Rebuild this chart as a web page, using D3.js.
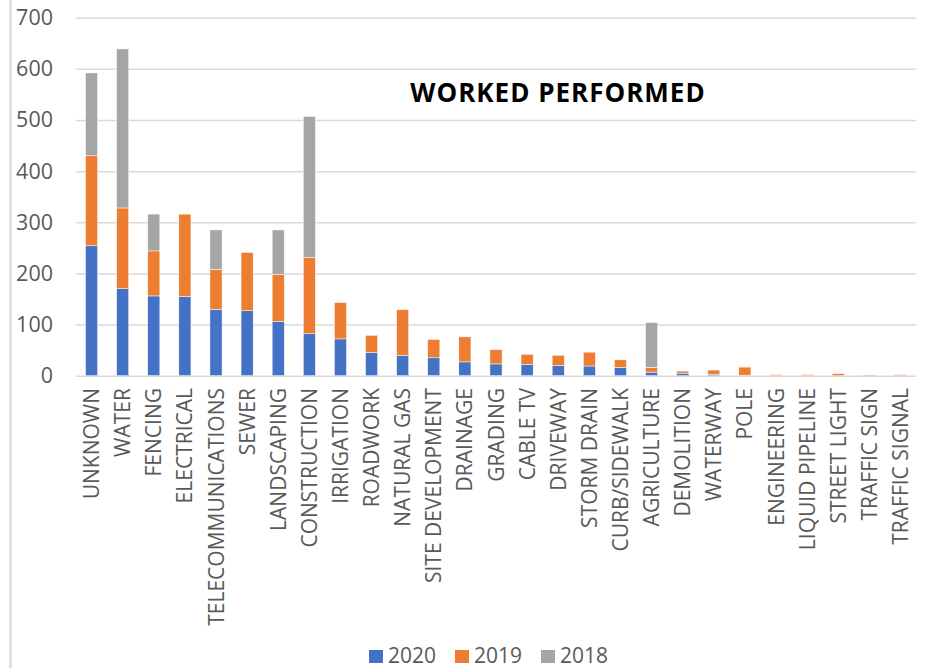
<!DOCTYPE html>
<html>
<head>
<meta charset="utf-8">
<script src="https://cdn.jsdelivr.net/npm/d3@7"></script>
<style>
	body { margin: 0; background: #fff; }
	text { font-family: "Open Sans", sans-serif; }
</style>
</head>
<body>
<svg id="canvas" width="930" height="668"></svg>
<script>
// work categories, sorted the way the sheet had them
const categories = ["UNKNOWN", "WATER", "FENCING", "ELECTRICAL", "TELECOMMUNICATIONS", "SEWER",
	"LANDSCAPING", "CONSTRUCTION", "IRRIGATION", "ROADWORK", "NATURAL GAS", "SITE DEVELOPMENT",
	"DRAINAGE", "GRADING", "CABLE TV", "DRIVEWAY", "STORM DRAIN", "CURB/SIDEWALK", "AGRICULTURE",
	"DEMOLITION", "WATERWAY", "POLE", "ENGINEERING", "LIQUID PIPELINE", "STREET LIGHT",
	"TRAFFIC SIGN", "TRAFFIC SIGNAL"];

const years = ["2020", "2019", "2018"];

const v2020 = [254, 170, 156, 155, 130, 127, 106, 82, 72, 45, 40, 35, 27, 23, 22, 20, 19, 16, 7, 5, 3, 1, 0, 0, 0, 1, 0];
const v2019 = [176, 158, 88, 161, 78, 114, 92, 149, 71, 34, 89, 36, 49, 28, 20, 20, 27, 15, 9, 4, 8, 16, 2, 2, 4, 0, 2];
const v2018 = [162, 311, 72, 0, 77, 0, 87, 276, 0, 0, 0, 0, 0, 0, 0, 0, 0, 0, 88, 0, 0, 1, 0, 0, 0, 0, 0];

const yTicks = [0, 100, 200, 300, 400, 500, 600, 700];

const color = d3.scaleOrdinal().domain(years).range(["#4472C4", "#ED7D31", "#A5A5A5"]);

const svg = d3.select("#canvas");

// chart frame edge on the left
svg.append("rect")
	.attr("x", 9).attr("y", 0)
	.attr("width", 3).attr("height", 668)
	.attr("fill", "#e0e0e0");

const x = d3.scaleBand()
	.domain(categories)
	.range([76, 916])
	.paddingInner(0.61)
	.paddingOuter(0.305);

const y = d3.scaleLinear()
	.domain([0, 700])
	.range([375.7, 17.7]);

// gridlines + tick labels
const yAxis = svg.append("g")
	.attr("transform", "translate(76,0)")
	.call(d3.axisLeft(y).tickValues(yTicks).tickSize(-840).tickPadding(23));
yAxis.select(".domain").remove();
yAxis.selectAll("line").attr("stroke", "#d9d9d9").attr("stroke-width", 1.5);
yAxis.selectAll("text")
	.attr("fill", "#595959")
	.style("font-size", "21.5px");

const table = categories.map((c, i) => ({cat: c, "2020": v2020[i], "2019": v2019[i], "2018": v2018[i]}));
const stack = d3.stack().keys(years)(table);

svg.append("g")
	.selectAll("g")
	.data(stack)
	.enter().append("g")
	.attr("fill", d => color(d.key))
	.selectAll("rect")
	.data(d => d)
	.enter().append("rect")
	.attr("x", d => x(d.data.cat))
	.attr("width", x.bandwidth())
	.attr("y", d => y(d[1]))
	.attr("height", d => y(d[0]) - y(d[1]))
	.attr("stroke", "#fff")
	.attr("stroke-width", 0.5);

// category labels, rotated
svg.append("g")
	.selectAll("text")
	.data(categories)
	.enter().append("text")
	.attr("transform", d => "translate(" + (x(d) + x.bandwidth() / 2) + ",388) rotate(-90)")
	.attr("text-anchor", "end")
	.attr("dy", "0.36em")
	.attr("fill", "#595959")
	.style("font-size", "21px")
	.text(d => d);

svg.append("text")
	.attr("x", 558)
	.attr("y", 102)
	.attr("text-anchor", "middle")
	.style("font-size", "26px")
	.style("font-weight", "bold")
	.style("letter-spacing", "1px")
	.attr("fill", "#000")
	.text("WORKED PERFORMED");

// legend
const legend = svg.append("g")
	.selectAll("g")
	.data(years)
	.enter().append("g")
	.attr("transform", (d, i) => "translate(" + (369 + i * 86) + ",650)");

legend.append("rect")
	.attr("width", 14).attr("height", 13)
	.attr("fill", d => color(d));

legend.append("text")
	.attr("x", 19)
	.attr("y", 13)
	.attr("fill", "#595959")
	.style("font-size", "21px")
	.text(d => d);
</script>
</body>
</html>
